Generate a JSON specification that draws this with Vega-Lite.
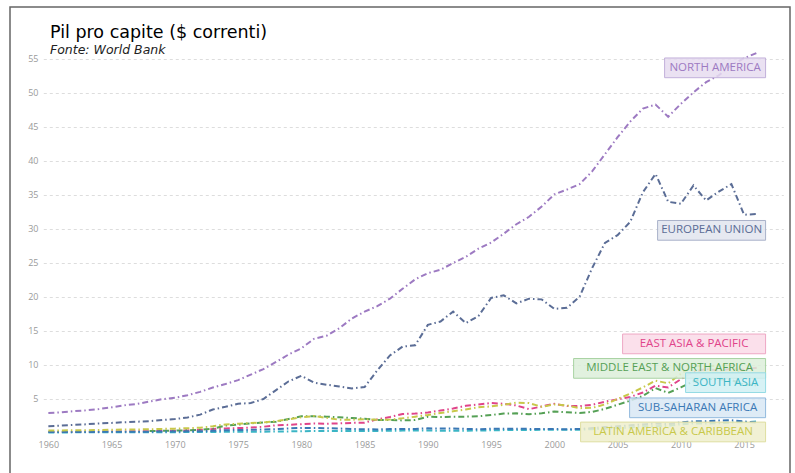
{
  "$schema": "https://vega.github.io/schema/vega-lite/v6.json",
  "width": 780,
  "height": 480,
  "autosize": {"type": "none"},
  "padding": {"left": 10, "top": 7, "right": 5, "bottom": 0},
  "background": "white",
  "title": {
    "text": "Pil pro capite ($ correnti)",
    "subtitle": "Fonte: World Bank",
    "anchor": "start",
    "frame": "group",
    "dx": 40,
    "offset": -49,
    "font": "DejaVu Sans",
    "fontSize": 17.5,
    "fontWeight": "normal",
    "color": "#000000",
    "subtitleFont": "DejaVu Sans",
    "subtitleFontStyle": "italic",
    "subtitleFontSize": 12.5,
    "subtitleColor": "#222222",
    "subtitlePadding": 2
  },
  "config": {
    "view": {"stroke": "#666666", "strokeWidth": 1.5}
  },
  "datasets": {
    "serie": [
      {"anno":1960,"regione":"NORTH AMERICA","pil":2.95},{"anno":1961,"regione":"NORTH AMERICA","pil":3.03},{"anno":1962,"regione":"NORTH AMERICA","pil":3.20},{"anno":1963,"regione":"NORTH AMERICA","pil":3.33},{"anno":1964,"regione":"NORTH AMERICA","pil":3.52},{"anno":1965,"regione":"NORTH AMERICA","pil":3.77},{"anno":1966,"regione":"NORTH AMERICA","pil":4.07},{"anno":1967,"regione":"NORTH AMERICA","pil":4.27},{"anno":1968,"regione":"NORTH AMERICA","pil":4.62},{"anno":1969,"regione":"NORTH AMERICA","pil":4.97},
      {"anno":1970,"regione":"NORTH AMERICA","pil":5.17},{"anno":1971,"regione":"NORTH AMERICA","pil":5.55},{"anno":1972,"regione":"NORTH AMERICA","pil":6.05},{"anno":1973,"regione":"NORTH AMERICA","pil":6.68},{"anno":1974,"regione":"NORTH AMERICA","pil":7.20},{"anno":1975,"regione":"NORTH AMERICA","pil":7.77},{"anno":1976,"regione":"NORTH AMERICA","pil":8.58},{"anno":1977,"regione":"NORTH AMERICA","pil":9.40},{"anno":1978,"regione":"NORTH AMERICA","pil":10.45},{"anno":1979,"regione":"NORTH AMERICA","pil":11.55},
      {"anno":1980,"regione":"NORTH AMERICA","pil":12.45},{"anno":1981,"regione":"NORTH AMERICA","pil":13.85},{"anno":1982,"regione":"NORTH AMERICA","pil":14.30},{"anno":1983,"regione":"NORTH AMERICA","pil":15.40},{"anno":1984,"regione":"NORTH AMERICA","pil":16.85},{"anno":1985,"regione":"NORTH AMERICA","pil":17.85},{"anno":1986,"regione":"NORTH AMERICA","pil":18.65},{"anno":1987,"regione":"NORTH AMERICA","pil":19.75},{"anno":1988,"regione":"NORTH AMERICA","pil":21.20},{"anno":1989,"regione":"NORTH AMERICA","pil":22.60},
      {"anno":1990,"regione":"NORTH AMERICA","pil":23.50},{"anno":1991,"regione":"NORTH AMERICA","pil":24.00},{"anno":1992,"regione":"NORTH AMERICA","pil":25.00},{"anno":1993,"regione":"NORTH AMERICA","pil":25.90},{"anno":1994,"regione":"NORTH AMERICA","pil":27.10},{"anno":1995,"regione":"NORTH AMERICA","pil":28.00},{"anno":1996,"regione":"NORTH AMERICA","pil":29.30},{"anno":1997,"regione":"NORTH AMERICA","pil":30.70},{"anno":1998,"regione":"NORTH AMERICA","pil":31.80},{"anno":1999,"regione":"NORTH AMERICA","pil":33.30},
      {"anno":2000,"regione":"NORTH AMERICA","pil":35.10},{"anno":2001,"regione":"NORTH AMERICA","pil":35.80},{"anno":2002,"regione":"NORTH AMERICA","pil":36.60},{"anno":2003,"regione":"NORTH AMERICA","pil":38.50},{"anno":2004,"regione":"NORTH AMERICA","pil":41.00},{"anno":2005,"regione":"NORTH AMERICA","pil":43.50},{"anno":2006,"regione":"NORTH AMERICA","pil":45.80},{"anno":2007,"regione":"NORTH AMERICA","pil":47.70},{"anno":2008,"regione":"NORTH AMERICA","pil":48.30},{"anno":2009,"regione":"NORTH AMERICA","pil":46.50},
      {"anno":2010,"regione":"NORTH AMERICA","pil":48.40},{"anno":2011,"regione":"NORTH AMERICA","pil":50.10},{"anno":2012,"regione":"NORTH AMERICA","pil":51.60},{"anno":2013,"regione":"NORTH AMERICA","pil":52.60},{"anno":2014,"regione":"NORTH AMERICA","pil":54.10},{"anno":2015,"regione":"NORTH AMERICA","pil":55.10},{"anno":2016,"regione":"NORTH AMERICA","pil":55.90},

      {"anno":1960,"regione":"EUROPEAN UNION","pil":1.00},{"anno":1961,"regione":"EUROPEAN UNION","pil":1.08},{"anno":1962,"regione":"EUROPEAN UNION","pil":1.18},{"anno":1963,"regione":"EUROPEAN UNION","pil":1.28},{"anno":1964,"regione":"EUROPEAN UNION","pil":1.40},{"anno":1965,"regione":"EUROPEAN UNION","pil":1.48},{"anno":1966,"regione":"EUROPEAN UNION","pil":1.58},{"anno":1967,"regione":"EUROPEAN UNION","pil":1.66},{"anno":1968,"regione":"EUROPEAN UNION","pil":1.74},{"anno":1969,"regione":"EUROPEAN UNION","pil":1.90},
      {"anno":1970,"regione":"EUROPEAN UNION","pil":2.05},{"anno":1971,"regione":"EUROPEAN UNION","pil":2.28},{"anno":1972,"regione":"EUROPEAN UNION","pil":2.70},{"anno":1973,"regione":"EUROPEAN UNION","pil":3.45},{"anno":1974,"regione":"EUROPEAN UNION","pil":3.85},{"anno":1975,"regione":"EUROPEAN UNION","pil":4.30},{"anno":1976,"regione":"EUROPEAN UNION","pil":4.40},{"anno":1977,"regione":"EUROPEAN UNION","pil":5.00},{"anno":1978,"regione":"EUROPEAN UNION","pil":6.30},{"anno":1979,"regione":"EUROPEAN UNION","pil":7.60},
      {"anno":1980,"regione":"EUROPEAN UNION","pil":8.40},{"anno":1981,"regione":"EUROPEAN UNION","pil":7.40},{"anno":1982,"regione":"EUROPEAN UNION","pil":7.10},{"anno":1983,"regione":"EUROPEAN UNION","pil":6.85},{"anno":1984,"regione":"EUROPEAN UNION","pil":6.55},{"anno":1985,"regione":"EUROPEAN UNION","pil":6.75},{"anno":1986,"regione":"EUROPEAN UNION","pil":9.20},{"anno":1987,"regione":"EUROPEAN UNION","pil":11.40},{"anno":1988,"regione":"EUROPEAN UNION","pil":12.70},{"anno":1989,"regione":"EUROPEAN UNION","pil":12.90},
      {"anno":1990,"regione":"EUROPEAN UNION","pil":15.90},{"anno":1991,"regione":"EUROPEAN UNION","pil":16.40},{"anno":1992,"regione":"EUROPEAN UNION","pil":17.85},{"anno":1993,"regione":"EUROPEAN UNION","pil":16.15},{"anno":1994,"regione":"EUROPEAN UNION","pil":17.20},{"anno":1995,"regione":"EUROPEAN UNION","pil":19.85},{"anno":1996,"regione":"EUROPEAN UNION","pil":20.25},{"anno":1997,"regione":"EUROPEAN UNION","pil":19.05},{"anno":1998,"regione":"EUROPEAN UNION","pil":19.75},{"anno":1999,"regione":"EUROPEAN UNION","pil":19.65},
      {"anno":2000,"regione":"EUROPEAN UNION","pil":18.25},{"anno":2001,"regione":"EUROPEAN UNION","pil":18.40},{"anno":2002,"regione":"EUROPEAN UNION","pil":20.05},{"anno":2003,"regione":"EUROPEAN UNION","pil":24.30},{"anno":2004,"regione":"EUROPEAN UNION","pil":27.95},{"anno":2005,"regione":"EUROPEAN UNION","pil":29.10},{"anno":2006,"regione":"EUROPEAN UNION","pil":31.05},{"anno":2007,"regione":"EUROPEAN UNION","pil":35.40},{"anno":2008,"regione":"EUROPEAN UNION","pil":38.10},{"anno":2009,"regione":"EUROPEAN UNION","pil":34.00},
      {"anno":2010,"regione":"EUROPEAN UNION","pil":33.70},{"anno":2011,"regione":"EUROPEAN UNION","pil":36.40},{"anno":2012,"regione":"EUROPEAN UNION","pil":34.20},{"anno":2013,"regione":"EUROPEAN UNION","pil":35.50},{"anno":2014,"regione":"EUROPEAN UNION","pil":36.60},{"anno":2015,"regione":"EUROPEAN UNION","pil":32.10},{"anno":2016,"regione":"EUROPEAN UNION","pil":32.20},

      {"anno":1960,"regione":"EAST ASIA & PACIFIC","pil":0.15},{"anno":1961,"regione":"EAST ASIA & PACIFIC","pil":0.15},{"anno":1962,"regione":"EAST ASIA & PACIFIC","pil":0.16},{"anno":1963,"regione":"EAST ASIA & PACIFIC","pil":0.17},{"anno":1964,"regione":"EAST ASIA & PACIFIC","pil":0.19},{"anno":1965,"regione":"EAST ASIA & PACIFIC","pil":0.21},{"anno":1966,"regione":"EAST ASIA & PACIFIC","pil":0.23},{"anno":1967,"regione":"EAST ASIA & PACIFIC","pil":0.25},{"anno":1968,"regione":"EAST ASIA & PACIFIC","pil":0.27},{"anno":1969,"regione":"EAST ASIA & PACIFIC","pil":0.30},
      {"anno":1970,"regione":"EAST ASIA & PACIFIC","pil":0.34},{"anno":1971,"regione":"EAST ASIA & PACIFIC","pil":0.38},{"anno":1972,"regione":"EAST ASIA & PACIFIC","pil":0.46},{"anno":1973,"regione":"EAST ASIA & PACIFIC","pil":0.58},{"anno":1974,"regione":"EAST ASIA & PACIFIC","pil":0.67},{"anno":1975,"regione":"EAST ASIA & PACIFIC","pil":0.72},{"anno":1976,"regione":"EAST ASIA & PACIFIC","pil":0.79},{"anno":1977,"regione":"EAST ASIA & PACIFIC","pil":0.92},{"anno":1978,"regione":"EAST ASIA & PACIFIC","pil":1.14},{"anno":1979,"regione":"EAST ASIA & PACIFIC","pil":1.20},
      {"anno":1980,"regione":"EAST ASIA & PACIFIC","pil":1.30},{"anno":1981,"regione":"EAST ASIA & PACIFIC","pil":1.40},{"anno":1982,"regione":"EAST ASIA & PACIFIC","pil":1.36},{"anno":1983,"regione":"EAST ASIA & PACIFIC","pil":1.42},{"anno":1984,"regione":"EAST ASIA & PACIFIC","pil":1.48},{"anno":1985,"regione":"EAST ASIA & PACIFIC","pil":1.52},{"anno":1986,"regione":"EAST ASIA & PACIFIC","pil":2.00},{"anno":1987,"regione":"EAST ASIA & PACIFIC","pil":2.35},{"anno":1988,"regione":"EAST ASIA & PACIFIC","pil":2.80},{"anno":1989,"regione":"EAST ASIA & PACIFIC","pil":2.85},
      {"anno":1990,"regione":"EAST ASIA & PACIFIC","pil":3.00},{"anno":1991,"regione":"EAST ASIA & PACIFIC","pil":3.30},{"anno":1992,"regione":"EAST ASIA & PACIFIC","pil":3.60},{"anno":1993,"regione":"EAST ASIA & PACIFIC","pil":4.00},{"anno":1994,"regione":"EAST ASIA & PACIFIC","pil":4.20},{"anno":1995,"regione":"EAST ASIA & PACIFIC","pil":4.40},{"anno":1996,"regione":"EAST ASIA & PACIFIC","pil":4.30},{"anno":1997,"regione":"EAST ASIA & PACIFIC","pil":4.05},{"anno":1998,"regione":"EAST ASIA & PACIFIC","pil":3.50},{"anno":1999,"regione":"EAST ASIA & PACIFIC","pil":3.90},
      {"anno":2000,"regione":"EAST ASIA & PACIFIC","pil":4.30},{"anno":2001,"regione":"EAST ASIA & PACIFIC","pil":3.95},{"anno":2002,"regione":"EAST ASIA & PACIFIC","pil":3.95},{"anno":2003,"regione":"EAST ASIA & PACIFIC","pil":4.15},{"anno":2004,"regione":"EAST ASIA & PACIFIC","pil":4.60},{"anno":2005,"regione":"EAST ASIA & PACIFIC","pil":4.95},{"anno":2006,"regione":"EAST ASIA & PACIFIC","pil":5.30},{"anno":2007,"regione":"EAST ASIA & PACIFIC","pil":5.95},{"anno":2008,"regione":"EAST ASIA & PACIFIC","pil":6.95},{"anno":2009,"regione":"EAST ASIA & PACIFIC","pil":6.70},
      {"anno":2010,"regione":"EAST ASIA & PACIFIC","pil":7.90},{"anno":2011,"regione":"EAST ASIA & PACIFIC","pil":9.00},{"anno":2012,"regione":"EAST ASIA & PACIFIC","pil":9.40},{"anno":2013,"regione":"EAST ASIA & PACIFIC","pil":9.20},{"anno":2014,"regione":"EAST ASIA & PACIFIC","pil":9.40},{"anno":2015,"regione":"EAST ASIA & PACIFIC","pil":9.30},{"anno":2016,"regione":"EAST ASIA & PACIFIC","pil":9.60},

      {"anno":1968,"regione":"MIDDLE EAST & NORTH AFRICA","pil":0.30},{"anno":1969,"regione":"MIDDLE EAST & NORTH AFRICA","pil":0.32},
      {"anno":1970,"regione":"MIDDLE EAST & NORTH AFRICA","pil":0.34},{"anno":1971,"regione":"MIDDLE EAST & NORTH AFRICA","pil":0.40},{"anno":1972,"regione":"MIDDLE EAST & NORTH AFRICA","pil":0.47},{"anno":1973,"regione":"MIDDLE EAST & NORTH AFRICA","pil":0.63},{"anno":1974,"regione":"MIDDLE EAST & NORTH AFRICA","pil":1.10},{"anno":1975,"regione":"MIDDLE EAST & NORTH AFRICA","pil":1.22},{"anno":1976,"regione":"MIDDLE EAST & NORTH AFRICA","pil":1.42},{"anno":1977,"regione":"MIDDLE EAST & NORTH AFRICA","pil":1.55},{"anno":1978,"regione":"MIDDLE EAST & NORTH AFRICA","pil":1.65},{"anno":1979,"regione":"MIDDLE EAST & NORTH AFRICA","pil":2.05},
      {"anno":1980,"regione":"MIDDLE EAST & NORTH AFRICA","pil":2.45},{"anno":1981,"regione":"MIDDLE EAST & NORTH AFRICA","pil":2.45},{"anno":1982,"regione":"MIDDLE EAST & NORTH AFRICA","pil":2.40},{"anno":1983,"regione":"MIDDLE EAST & NORTH AFRICA","pil":2.30},{"anno":1984,"regione":"MIDDLE EAST & NORTH AFRICA","pil":2.20},{"anno":1985,"regione":"MIDDLE EAST & NORTH AFRICA","pil":2.10},{"anno":1986,"regione":"MIDDLE EAST & NORTH AFRICA","pil":1.90},{"anno":1987,"regione":"MIDDLE EAST & NORTH AFRICA","pil":1.90},{"anno":1988,"regione":"MIDDLE EAST & NORTH AFRICA","pil":1.85},{"anno":1989,"regione":"MIDDLE EAST & NORTH AFRICA","pil":1.90},
      {"anno":1990,"regione":"MIDDLE EAST & NORTH AFRICA","pil":2.40},{"anno":1991,"regione":"MIDDLE EAST & NORTH AFRICA","pil":2.35},{"anno":1992,"regione":"MIDDLE EAST & NORTH AFRICA","pil":2.40},{"anno":1993,"regione":"MIDDLE EAST & NORTH AFRICA","pil":2.40},{"anno":1994,"regione":"MIDDLE EAST & NORTH AFRICA","pil":2.45},{"anno":1995,"regione":"MIDDLE EAST & NORTH AFRICA","pil":2.65},{"anno":1996,"regione":"MIDDLE EAST & NORTH AFRICA","pil":2.85},{"anno":1997,"regione":"MIDDLE EAST & NORTH AFRICA","pil":2.90},{"anno":1998,"regione":"MIDDLE EAST & NORTH AFRICA","pil":2.75},{"anno":1999,"regione":"MIDDLE EAST & NORTH AFRICA","pil":2.90},
      {"anno":2000,"regione":"MIDDLE EAST & NORTH AFRICA","pil":3.15},{"anno":2001,"regione":"MIDDLE EAST & NORTH AFRICA","pil":3.05},{"anno":2002,"regione":"MIDDLE EAST & NORTH AFRICA","pil":2.95},{"anno":2003,"regione":"MIDDLE EAST & NORTH AFRICA","pil":3.10},{"anno":2004,"regione":"MIDDLE EAST & NORTH AFRICA","pil":3.55},{"anno":2005,"regione":"MIDDLE EAST & NORTH AFRICA","pil":4.15},{"anno":2006,"regione":"MIDDLE EAST & NORTH AFRICA","pil":4.75},{"anno":2007,"regione":"MIDDLE EAST & NORTH AFRICA","pil":5.45},{"anno":2008,"regione":"MIDDLE EAST & NORTH AFRICA","pil":6.60},{"anno":2009,"regione":"MIDDLE EAST & NORTH AFRICA","pil":5.90},
      {"anno":2010,"regione":"MIDDLE EAST & NORTH AFRICA","pil":6.70},{"anno":2011,"regione":"MIDDLE EAST & NORTH AFRICA","pil":7.60},{"anno":2012,"regione":"MIDDLE EAST & NORTH AFRICA","pil":8.00},{"anno":2013,"regione":"MIDDLE EAST & NORTH AFRICA","pil":7.90},{"anno":2014,"regione":"MIDDLE EAST & NORTH AFRICA","pil":7.80},{"anno":2015,"regione":"MIDDLE EAST & NORTH AFRICA","pil":7.10},{"anno":2016,"regione":"MIDDLE EAST & NORTH AFRICA","pil":7.00},

      {"anno":1960,"regione":"SOUTH ASIA","pil":0.08},{"anno":1961,"regione":"SOUTH ASIA","pil":0.085},{"anno":1962,"regione":"SOUTH ASIA","pil":0.09},{"anno":1963,"regione":"SOUTH ASIA","pil":0.10},{"anno":1964,"regione":"SOUTH ASIA","pil":0.11},{"anno":1965,"regione":"SOUTH ASIA","pil":0.12},{"anno":1966,"regione":"SOUTH ASIA","pil":0.10},{"anno":1967,"regione":"SOUTH ASIA","pil":0.11},{"anno":1968,"regione":"SOUTH ASIA","pil":0.11},{"anno":1969,"regione":"SOUTH ASIA","pil":0.12},
      {"anno":1970,"regione":"SOUTH ASIA","pil":0.12},{"anno":1971,"regione":"SOUTH ASIA","pil":0.13},{"anno":1972,"regione":"SOUTH ASIA","pil":0.13},{"anno":1973,"regione":"SOUTH ASIA","pil":0.15},{"anno":1974,"regione":"SOUTH ASIA","pil":0.17},{"anno":1975,"regione":"SOUTH ASIA","pil":0.17},{"anno":1976,"regione":"SOUTH ASIA","pil":0.17},{"anno":1977,"regione":"SOUTH ASIA","pil":0.19},{"anno":1978,"regione":"SOUTH ASIA","pil":0.21},{"anno":1979,"regione":"SOUTH ASIA","pil":0.23},
      {"anno":1980,"regione":"SOUTH ASIA","pil":0.27},{"anno":1981,"regione":"SOUTH ASIA","pil":0.28},{"anno":1982,"regione":"SOUTH ASIA","pil":0.28},{"anno":1983,"regione":"SOUTH ASIA","pil":0.29},{"anno":1984,"regione":"SOUTH ASIA","pil":0.28},{"anno":1985,"regione":"SOUTH ASIA","pil":0.29},{"anno":1986,"regione":"SOUTH ASIA","pil":0.30},{"anno":1987,"regione":"SOUTH ASIA","pil":0.33},{"anno":1988,"regione":"SOUTH ASIA","pil":0.35},{"anno":1989,"regione":"SOUTH ASIA","pil":0.35},
      {"anno":1990,"regione":"SOUTH ASIA","pil":0.37},{"anno":1991,"regione":"SOUTH ASIA","pil":0.32},{"anno":1992,"regione":"SOUTH ASIA","pil":0.33},{"anno":1993,"regione":"SOUTH ASIA","pil":0.33},{"anno":1994,"regione":"SOUTH ASIA","pil":0.37},{"anno":1995,"regione":"SOUTH ASIA","pil":0.39},{"anno":1996,"regione":"SOUTH ASIA","pil":0.42},{"anno":1997,"regione":"SOUTH ASIA","pil":0.44},{"anno":1998,"regione":"SOUTH ASIA","pil":0.44},{"anno":1999,"regione":"SOUTH ASIA","pil":0.46},
      {"anno":2000,"regione":"SOUTH ASIA","pil":0.46},{"anno":2001,"regione":"SOUTH ASIA","pil":0.47},{"anno":2002,"regione":"SOUTH ASIA","pil":0.49},{"anno":2003,"regione":"SOUTH ASIA","pil":0.56},{"anno":2004,"regione":"SOUTH ASIA","pil":0.64},{"anno":2005,"regione":"SOUTH ASIA","pil":0.72},{"anno":2006,"regione":"SOUTH ASIA","pil":0.80},{"anno":2007,"regione":"SOUTH ASIA","pil":0.98},{"anno":2008,"regione":"SOUTH ASIA","pil":1.00},{"anno":2009,"regione":"SOUTH ASIA","pil":1.05},
      {"anno":2010,"regione":"SOUTH ASIA","pil":1.28},{"anno":2011,"regione":"SOUTH ASIA","pil":1.40},{"anno":2012,"regione":"SOUTH ASIA","pil":1.40},{"anno":2013,"regione":"SOUTH ASIA","pil":1.42},{"anno":2014,"regione":"SOUTH ASIA","pil":1.54},{"anno":2015,"regione":"SOUTH ASIA","pil":1.59},{"anno":2016,"regione":"SOUTH ASIA","pil":1.68},

      {"anno":1960,"regione":"SUB-SAHARAN AFRICA","pil":0.13},{"anno":1961,"regione":"SUB-SAHARAN AFRICA","pil":0.13},{"anno":1962,"regione":"SUB-SAHARAN AFRICA","pil":0.14},{"anno":1963,"regione":"SUB-SAHARAN AFRICA","pil":0.15},{"anno":1964,"regione":"SUB-SAHARAN AFRICA","pil":0.16},{"anno":1965,"regione":"SUB-SAHARAN AFRICA","pil":0.17},{"anno":1966,"regione":"SUB-SAHARAN AFRICA","pil":0.18},{"anno":1967,"regione":"SUB-SAHARAN AFRICA","pil":0.18},{"anno":1968,"regione":"SUB-SAHARAN AFRICA","pil":0.19},{"anno":1969,"regione":"SUB-SAHARAN AFRICA","pil":0.21},
      {"anno":1970,"regione":"SUB-SAHARAN AFRICA","pil":0.22},{"anno":1971,"regione":"SUB-SAHARAN AFRICA","pil":0.24},{"anno":1972,"regione":"SUB-SAHARAN AFRICA","pil":0.26},{"anno":1973,"regione":"SUB-SAHARAN AFRICA","pil":0.32},{"anno":1974,"regione":"SUB-SAHARAN AFRICA","pil":0.40},{"anno":1975,"regione":"SUB-SAHARAN AFRICA","pil":0.44},{"anno":1976,"regione":"SUB-SAHARAN AFRICA","pil":0.46},{"anno":1977,"regione":"SUB-SAHARAN AFRICA","pil":0.52},{"anno":1978,"regione":"SUB-SAHARAN AFRICA","pil":0.57},{"anno":1979,"regione":"SUB-SAHARAN AFRICA","pil":0.66},
      {"anno":1980,"regione":"SUB-SAHARAN AFRICA","pil":0.75},{"anno":1981,"regione":"SUB-SAHARAN AFRICA","pil":0.75},{"anno":1982,"regione":"SUB-SAHARAN AFRICA","pil":0.70},{"anno":1983,"regione":"SUB-SAHARAN AFRICA","pil":0.65},{"anno":1984,"regione":"SUB-SAHARAN AFRICA","pil":0.58},{"anno":1985,"regione":"SUB-SAHARAN AFRICA","pil":0.55},{"anno":1986,"regione":"SUB-SAHARAN AFRICA","pil":0.52},{"anno":1987,"regione":"SUB-SAHARAN AFRICA","pil":0.58},{"anno":1988,"regione":"SUB-SAHARAN AFRICA","pil":0.60},{"anno":1989,"regione":"SUB-SAHARAN AFRICA","pil":0.60},
      {"anno":1990,"regione":"SUB-SAHARAN AFRICA","pil":0.68},{"anno":1991,"regione":"SUB-SAHARAN AFRICA","pil":0.67},{"anno":1992,"regione":"SUB-SAHARAN AFRICA","pil":0.66},{"anno":1993,"regione":"SUB-SAHARAN AFRICA","pil":0.60},{"anno":1994,"regione":"SUB-SAHARAN AFRICA","pil":0.55},{"anno":1995,"regione":"SUB-SAHARAN AFRICA","pil":0.62},{"anno":1996,"regione":"SUB-SAHARAN AFRICA","pil":0.63},{"anno":1997,"regione":"SUB-SAHARAN AFRICA","pil":0.64},{"anno":1998,"regione":"SUB-SAHARAN AFRICA","pil":0.60},{"anno":1999,"regione":"SUB-SAHARAN AFRICA","pil":0.58},
      {"anno":2000,"regione":"SUB-SAHARAN AFRICA","pil":0.58},{"anno":2001,"regione":"SUB-SAHARAN AFRICA","pil":0.55},{"anno":2002,"regione":"SUB-SAHARAN AFRICA","pil":0.58},{"anno":2003,"regione":"SUB-SAHARAN AFRICA","pil":0.72},{"anno":2004,"regione":"SUB-SAHARAN AFRICA","pil":0.87},{"anno":2005,"regione":"SUB-SAHARAN AFRICA","pil":0.99},{"anno":2006,"regione":"SUB-SAHARAN AFRICA","pil":1.13},{"anno":2007,"regione":"SUB-SAHARAN AFRICA","pil":1.26},{"anno":2008,"regione":"SUB-SAHARAN AFRICA","pil":1.40},{"anno":2009,"regione":"SUB-SAHARAN AFRICA","pil":1.30},
      {"anno":2010,"regione":"SUB-SAHARAN AFRICA","pil":1.55},{"anno":2011,"regione":"SUB-SAHARAN AFRICA","pil":1.70},{"anno":2012,"regione":"SUB-SAHARAN AFRICA","pil":1.74},{"anno":2013,"regione":"SUB-SAHARAN AFRICA","pil":1.82},{"anno":2014,"regione":"SUB-SAHARAN AFRICA","pil":1.88},{"anno":2015,"regione":"SUB-SAHARAN AFRICA","pil":1.70},{"anno":2016,"regione":"SUB-SAHARAN AFRICA","pil":1.52},

      {"anno":1960,"regione":"LATIN AMERICA & CARIBBEAN","pil":0.37},{"anno":1961,"regione":"LATIN AMERICA & CARIBBEAN","pil":0.38},{"anno":1962,"regione":"LATIN AMERICA & CARIBBEAN","pil":0.40},{"anno":1963,"regione":"LATIN AMERICA & CARIBBEAN","pil":0.41},{"anno":1964,"regione":"LATIN AMERICA & CARIBBEAN","pil":0.44},{"anno":1965,"regione":"LATIN AMERICA & CARIBBEAN","pil":0.47},{"anno":1966,"regione":"LATIN AMERICA & CARIBBEAN","pil":0.50},{"anno":1967,"regione":"LATIN AMERICA & CARIBBEAN","pil":0.52},{"anno":1968,"regione":"LATIN AMERICA & CARIBBEAN","pil":0.55},{"anno":1969,"regione":"LATIN AMERICA & CARIBBEAN","pil":0.60},
      {"anno":1970,"regione":"LATIN AMERICA & CARIBBEAN","pil":0.64},{"anno":1971,"regione":"LATIN AMERICA & CARIBBEAN","pil":0.70},{"anno":1972,"regione":"LATIN AMERICA & CARIBBEAN","pil":0.78},{"anno":1973,"regione":"LATIN AMERICA & CARIBBEAN","pil":0.99},{"anno":1974,"regione":"LATIN AMERICA & CARIBBEAN","pil":1.26},{"anno":1975,"regione":"LATIN AMERICA & CARIBBEAN","pil":1.35},{"anno":1976,"regione":"LATIN AMERICA & CARIBBEAN","pil":1.45},{"anno":1977,"regione":"LATIN AMERICA & CARIBBEAN","pil":1.55},{"anno":1978,"regione":"LATIN AMERICA & CARIBBEAN","pil":1.73},{"anno":1979,"regione":"LATIN AMERICA & CARIBBEAN","pil":2.01},
      {"anno":1980,"regione":"LATIN AMERICA & CARIBBEAN","pil":2.30},{"anno":1981,"regione":"LATIN AMERICA & CARIBBEAN","pil":2.50},{"anno":1982,"regione":"LATIN AMERICA & CARIBBEAN","pil":2.22},{"anno":1983,"regione":"LATIN AMERICA & CARIBBEAN","pil":1.95},{"anno":1984,"regione":"LATIN AMERICA & CARIBBEAN","pil":1.95},{"anno":1985,"regione":"LATIN AMERICA & CARIBBEAN","pil":2.02},{"anno":1986,"regione":"LATIN AMERICA & CARIBBEAN","pil":1.93},{"anno":1987,"regione":"LATIN AMERICA & CARIBBEAN","pil":1.98},{"anno":1988,"regione":"LATIN AMERICA & CARIBBEAN","pil":2.15},{"anno":1989,"regione":"LATIN AMERICA & CARIBBEAN","pil":2.40},
      {"anno":1990,"regione":"LATIN AMERICA & CARIBBEAN","pil":2.65},{"anno":1991,"regione":"LATIN AMERICA & CARIBBEAN","pil":2.95},{"anno":1992,"regione":"LATIN AMERICA & CARIBBEAN","pil":3.20},{"anno":1993,"regione":"LATIN AMERICA & CARIBBEAN","pil":3.45},{"anno":1994,"regione":"LATIN AMERICA & CARIBBEAN","pil":3.80},{"anno":1995,"regione":"LATIN AMERICA & CARIBBEAN","pil":3.90},{"anno":1996,"regione":"LATIN AMERICA & CARIBBEAN","pil":4.15},{"anno":1997,"regione":"LATIN AMERICA & CARIBBEAN","pil":4.45},{"anno":1998,"regione":"LATIN AMERICA & CARIBBEAN","pil":4.40},{"anno":1999,"regione":"LATIN AMERICA & CARIBBEAN","pil":3.85},
      {"anno":2000,"regione":"LATIN AMERICA & CARIBBEAN","pil":4.20},{"anno":2001,"regione":"LATIN AMERICA & CARIBBEAN","pil":4.05},{"anno":2002,"regione":"LATIN AMERICA & CARIBBEAN","pil":3.65},{"anno":2003,"regione":"LATIN AMERICA & CARIBBEAN","pil":3.70},{"anno":2004,"regione":"LATIN AMERICA & CARIBBEAN","pil":4.20},{"anno":2005,"regione":"LATIN AMERICA & CARIBBEAN","pil":5.00},{"anno":2006,"regione":"LATIN AMERICA & CARIBBEAN","pil":5.80},{"anno":2007,"regione":"LATIN AMERICA & CARIBBEAN","pil":6.70},{"anno":2008,"regione":"LATIN AMERICA & CARIBBEAN","pil":7.70},{"anno":2009,"regione":"LATIN AMERICA & CARIBBEAN","pil":7.30},
      {"anno":2010,"regione":"LATIN AMERICA & CARIBBEAN","pil":8.70},{"anno":2011,"regione":"LATIN AMERICA & CARIBBEAN","pil":9.90},{"anno":2012,"regione":"LATIN AMERICA & CARIBBEAN","pil":9.80},{"anno":2013,"regione":"LATIN AMERICA & CARIBBEAN","pil":9.95},{"anno":2014,"regione":"LATIN AMERICA & CARIBBEAN","pil":9.90},{"anno":2015,"regione":"LATIN AMERICA & CARIBBEAN","pil":8.45},{"anno":2016,"regione":"LATIN AMERICA & CARIBBEAN","pil":8.15}
    ],
    "etichette": [
      {"regione": "NORTH AMERICA", "livello": 53.7},
      {"regione": "EUROPEAN UNION", "livello": 29.8},
      {"regione": "EAST ASIA & PACIFIC", "livello": 13.1},
      {"regione": "MIDDLE EAST & NORTH AFRICA", "livello": 9.5},
      {"regione": "SOUTH ASIA", "livello": 7.4},
      {"regione": "SUB-SAHARAN AFRICA", "livello": 3.7},
      {"regione": "LATIN AMERICA & CARIBBEAN", "livello": 0.15}
    ]
  },
  "layer": [
    {
      "data": {"name": "serie"},
      "mark": {"type": "line", "strokeWidth": 2, "strokeDash": [6, 3, 1.5, 3], "clip": false},
      "encoding": {
        "x": {
          "field": "anno", "type": "quantitative", "title": null,
          "scale": {"domain": [1959.6, 2018.1], "range": [33.3, 773.3], "zero": false, "nice": false},
          "axis": {
            "values": [1960, 1965, 1970, 1975, 1980, 1985, 1990, 1995, 2000, 2005, 2010, 2015],
            "format": "d",
            "grid": false,
            "domain": false,
            "ticks": false,
            "labelPadding": 4,
            "offset": -51,
            "labelFont": "Open Sans",
            "labelFontSize": 9,
            "labelColor": "#9a9a9a"
          }
        },
        "y": {
          "field": "pil", "type": "quantitative", "title": null,
          "scale": {"domain": [-0.4, 56.5], "range": [428.7, 41.8], "zero": false, "nice": false},
          "axis": {
            "values": [5, 10, 15, 20, 25, 30, 35, 40, 45, 50, 55],
            "grid": true,
            "gridColor": "#dddddd",
            "gridDash": [3, 3],
            "gridWidth": 1,
            "domain": false,
            "ticks": false,
            "labelPadding": 5,
            "offset": -33,
            "labelFont": "Open Sans",
            "labelFontSize": 9,
            "labelColor": "#9a9a9a"
          }
        },
        "color": {
          "field": "regione", "type": "nominal", "legend": null,
          "scale": {
            "domain": ["NORTH AMERICA", "EUROPEAN UNION", "EAST ASIA & PACIFIC", "MIDDLE EAST & NORTH AFRICA", "SOUTH ASIA", "SUB-SAHARAN AFRICA", "LATIN AMERICA & CARIBBEAN"],
            "range": ["#9d7ac2", "#5b6d96", "#e0448a", "#55a055", "#3bb5c5", "#3a78b5", "#c8c84a"]
          }
        },
        "order": {"field": "anno", "type": "quantitative"}
      }
    },
    {
      "data": {"name": "etichette"},
      "transform": [
        {"calculate": "2016.7", "as": "fine"},
        {"calculate": "2016.7 - (10 + 7 * length(datum.regione)) / 12.65", "as": "inizio"},
        {"calculate": "datum.livello - 1.45", "as": "basso"},
        {"calculate": "datum.livello + 1.45", "as": "alto"}
      ],
      "mark": {"type": "rect", "fillOpacity": 0.85, "strokeWidth": 1, "clip": false},
      "encoding": {
        "x": {"field": "inizio", "type": "quantitative", "title": null},
        "x2": {"field": "fine"},
        "y": {"field": "basso", "type": "quantitative", "title": null},
        "y2": {"field": "alto"},
        "fill": {
          "field": "regione", "type": "nominal", "legend": null,
          "scale": {
            "domain": ["NORTH AMERICA", "EUROPEAN UNION", "EAST ASIA & PACIFIC", "MIDDLE EAST & NORTH AFRICA", "SOUTH ASIA", "SUB-SAHARAN AFRICA", "LATIN AMERICA & CARIBBEAN"],
            "range": ["#e6dcf0", "#e2e5ee", "#fadbe8", "#dcefd9", "#d0f0f3", "#d8e7f5", "#efefcc"]
          }
        },
        "stroke": {
          "field": "regione", "type": "nominal", "legend": null,
          "scale": {
            "domain": ["NORTH AMERICA", "EUROPEAN UNION", "EAST ASIA & PACIFIC", "MIDDLE EAST & NORTH AFRICA", "SOUTH ASIA", "SUB-SAHARAN AFRICA", "LATIN AMERICA & CARIBBEAN"],
            "range": ["#c2b0da", "#a9b2c9", "#eea7c4", "#a9d3a3", "#94dbe4", "#92b9dd", "#dedea0"]
          }
        }
      }
    },
    {
      "data": {"name": "etichette"},
      "transform": [
        {"calculate": "2016.7 - (10 + 7 * length(datum.regione)) / 2 / 12.65", "as": "centro"}
      ],
      "mark": {"type": "text", "align": "center", "baseline": "middle", "font": "Open Sans", "fontSize": 11.5, "clip": false},
      "encoding": {
        "x": {"field": "centro", "type": "quantitative", "title": null},
        "y": {"field": "livello", "type": "quantitative", "title": null},
        "text": {"field": "regione", "type": "nominal"},
        "color": {"field": "regione", "type": "nominal", "legend": null}
      }
    }
  ]
}
